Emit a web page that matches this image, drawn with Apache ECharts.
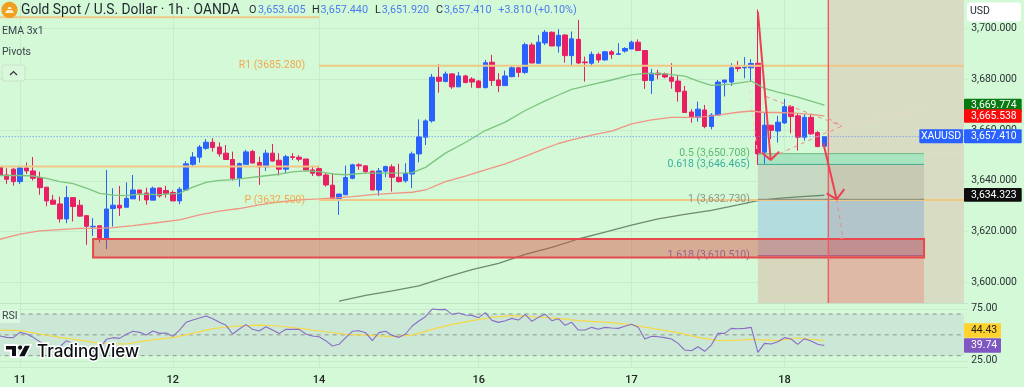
<!DOCTYPE html>
<html><head><meta charset="utf-8">
<style>html,body{margin:0;padding:0;background:#d4f9d6}#c{width:1024px;height:387px}</style>
<script src="https://cdn.jsdelivr.net/npm/echarts@6/dist/echarts.min.js"></script>
</head><body><div id="c"></div>
<script>
const opens=[3645.6,3642.3,3644.6,3639.7,3645.1,3643.9,3641.3,3637.5,3632.4,3630.9,
3625.0,3633.4,3630.4,3626.3,3621.9,3622.3,3617.3,3629.1,3630.4,3629.6,
3632.9,3636.4,3635.2,3632.4,3637.2,3636.2,3635.4,3632.1,3636.4,3646.5,
3649.3,3652.8,3655.2,3653.3,3650.9,3648.4,3641.0,3646.5,3651.6,3647.2,
3645.5,3650.9,3648.1,3644.6,3649.5,3649.3,3648.6,3644.3,3644.8,3642.3,
3638.3,3633.1,3634.5,3641.0,3646.3,3645.9,3643.8,3636.4,3643.8,3645.5,
3641.4,3640.0,3642.7,3650.6,3657.2,3663.6,3680.8,3679.1,3682.1,3677.0,
3681.3,3680.1,3679.3,3676.7,3686.7,3679.7,3677.5,3681.0,3684.5,3682.7,
3693.5,3686.3,3694.3,3698.5,3693.1,3697.4,3689.3,3695.7,3686.8,3686.3,
3689.8,3687.6,3690.8,3689.8,3691.1,3691.9,3694.6,3691.3,3679.5,3682.4,
3682.1,3680.8,3679.3,3675.3,3667.1,3665.0,3667.9,3661.4,3665.9,3678.8,
3678.9,3684.7,3684.5,3684.5,3686.3,3651.3,3661.9,3659.6,3662.8,3669.2,
3665.6,3657.2,3665.0,3659.0,3653.605];
const highs=[3645.6,3645.0,3645.0,3645.9,3647.2,3649.4,3643.6,3637.5,3634.5,3633.8,
3638.0,3633.4,3632.5,3626.3,3625.3,3622.3,3644.3,3637.1,3638.0,3639.4,
3642.3,3636.4,3637.3,3637.7,3637.2,3638.0,3636.2,3637.5,3647.8,3651.3,
3654.1,3656.4,3656.8,3655.1,3654.1,3651.5,3647.2,3652.2,3652.2,3649.5,
3652.2,3654.5,3650.9,3650.2,3650.9,3650.1,3648.6,3645.9,3645.9,3643.0,
3643.0,3634.8,3646.0,3646.7,3646.9,3645.9,3643.8,3645.0,3646.0,3646.5,
3646.7,3646.9,3651.5,3664.2,3664.2,3682.1,3685.9,3683.0,3682.4,3682.9,
3681.7,3680.8,3679.7,3687.6,3689.6,3682.4,3683.4,3685.5,3685.0,3694.4,
3694.4,3697.4,3699.4,3698.8,3699.7,3697.7,3698.8,3703.4,3688.9,3690.9,
3690.5,3691.1,3691.5,3694.2,3692.6,3695.2,3695.7,3691.5,3684.1,3683.7,
3682.6,3686.3,3681.3,3677.4,3668.2,3671.2,3669.9,3666.6,3679.7,3679.7,
3686.3,3687.2,3688.7,3687.9,3707.5,3667.0,3661.9,3665.6,3672.2,3669.8,
3666.3,3666.3,3666.3,3659.6,3657.44];
const lows=[3641.7,3638.8,3638.1,3638.7,3642.7,3640.1,3634.5,3630.0,3630.5,3623.6,
3623.3,3624.0,3625.9,3614.8,3618.3,3615.7,3613.1,3622.0,3626.2,3629.6,
3632.9,3632.1,3630.6,3632.4,3633.4,3633.4,3632.1,3630.8,3636.4,3645.6,
3647.2,3652.2,3651.5,3649.5,3648.2,3640.1,3637.7,3646.5,3646.9,3638.4,
3643.9,3647.6,3642.1,3643.0,3648.2,3647.6,3644.3,3641.9,3641.7,3637.7,
3632.5,3626.6,3634.5,3640.6,3644.3,3643.0,3636.4,3634.1,3641.4,3635.8,
3639.3,3639.3,3637.1,3647.3,3654.1,3662.9,3674.7,3678.8,3676.2,3677.0,
3678.4,3676.7,3676.7,3676.4,3677.4,3674.9,3677.5,3680.8,3680.8,3682.1,
3686.3,3686.3,3693.5,3693.1,3690.5,3686.5,3685.4,3686.0,3679.1,3685.0,
3686.5,3687.3,3688.0,3689.8,3690.5,3691.9,3691.3,3676.2,3674.2,3680.0,
3680.4,3676.3,3671.2,3666.9,3662.9,3663.3,3660.7,3660.3,3665.6,3673.2,
3677.4,3683.0,3680.4,3679.1,3646.3,3646.7,3656.4,3655.1,3662.4,3658.7,
3651.9,3655.8,3658.1,3653.2,3651.92];
const closes=[3642.1,3640.6,3639.7,3645.1,3643.9,3641.0,3637.3,3632.1,3630.8,3625.0,
3633.4,3629.9,3626.1,3622.1,3622.1,3617.0,3628.9,3630.4,3629.3,3633.1,
3636.4,3635.1,3632.5,3637.1,3634.1,3635.1,3632.1,3636.7,3646.7,3649.4,
3653.3,3655.2,3653.1,3650.6,3648.4,3641.0,3646.8,3651.4,3647.0,3645.5,
3650.9,3647.8,3644.6,3649.5,3649.2,3648.5,3644.3,3643.0,3642.2,3638.4,
3633.1,3634.8,3641.3,3646.3,3645.9,3643.6,3636.4,3643.9,3645.6,3641.4,
3639.7,3642.9,3650.6,3657.3,3663.6,3680.8,3679.2,3682.1,3677.0,3681.3,
3678.7,3678.9,3676.7,3686.5,3679.5,3677.5,3681.3,3684.5,3682.7,3693.6,
3686.4,3694.6,3698.5,3693.1,3697.3,3689.3,3695.9,3686.4,3686.5,3689.8,
3687.6,3690.8,3689.8,3690.0,3692.1,3694.6,3691.3,3679.5,3682.4,3681.8,
3680.9,3679.2,3675.1,3666.9,3665.0,3668.2,3661.4,3665.9,3678.9,3679.7,
3684.5,3684.2,3684.7,3686.2,3650.6,3661.9,3659.9,3663.1,3669.2,3665.3,
3657.2,3665.0,3658.5,3653.5,3657.41];
const emaFast=[[0,3642.1],[3,3642.1],[5,3641.9],[7,3641.0],[9,3639.7],[11,3638.9],[13,3637.1],[15,3635.1],[17,3634.4],[19,3634.2],[21,3634.8],[24,3634.6],[27,3635.1],[29,3637.5],[31,3639.4],[33,3640.2],[35,3640.5],[37,3641.1],[39,3641.7],[42,3642.6],[44,3643.5],[46,3643.9],[48,3643.6],[50,3642.7],[52,3642.4],[55,3643],[58,3643],[61,3643.1],[62,3643.2],[64,3645.3],[67,3650.9],[70,3655.1],[73,3659.8],[76,3663.1],[79,3667.7],[82,3671.5],[84,3673.8],[86,3676.0],[89,3677.9],[92,3679.7],[95,3681.7],[97,3682.3],[100,3682.1],[103,3681.2],[105,3679.3],[107,3677.6],[110,3678.1],[113,3679.3],[115,3676.4],[117,3674.9],[120,3673.0],[124,3669.774]];
const emaMid=[[0,3617.0],[3,3619.0],[6,3620.3],[9,3620.8],[12,3621.3],[15,3621.3],[17,3621.6],[20,3622.4],[23,3623.3],[27,3624.6],[30,3626.6],[33,3628.1],[36,3629.1],[39,3630.5],[42,3631.7],[45,3632.5],[48,3632.9],[51,3633.4],[53,3633.8],[56,3634.6],[59,3635.1],[62,3635.5],[64,3636.4],[67,3639.7],[70,3641.9],[73,3644.3],[76,3646.7],[79,3649.6],[82,3652.8],[84,3654.7],[86,3656.1],[89,3658.0],[92,3659.6],[95,3662.4],[98,3664.0],[101,3665.0],[104,3665.0],[106,3665.3],[108,3665.9],[111,3667.0],[113,3667.5],[115,3666.9],[117,3666.9],[120,3666.6],[122,3666.2],[124,3665.538]];
const emaSlow=[[51,3592.6],[55,3594.9],[59,3596.7],[63,3598.6],[67,3602.0],[71,3605.0],[75,3607.5],[79,3611.0],[83,3613.8],[87,3617.1],[91,3619.8],[95,3622.6],[99,3625.0],[103,3626.8],[107,3628.4],[111,3630.5],[114,3632.2],[117,3633.1],[120,3633.7],[124,3634.323]];
const rsi=[48.9,47.6,47.3,52.4,50.8,47.6,43.4,39.6,38.0,38.6,44.4,41.8,38.6,35.4,33.8,37.0,45.7,47.3,46.6,50.5,53.4,52.4,49.8,53.7,51.4,51.8,48.6,54.6,62.0,64.2,66.2,68.1,65.5,62.0,59.1,50.8,55.6,59.8,55.3,53.7,57.8,54.6,51.4,55.3,55.3,55.3,50.8,48.9,48.2,44.4,39.3,40.9,47.3,53.4,54.0,52.1,44.4,52.1,53.4,49.5,47.6,50.8,58.5,63.3,67.4,74.8,74.2,74.5,69.7,71.0,69.0,68.7,66.5,71.3,63.9,62.0,63.6,65.8,64.2,69.7,63.0,66.8,69.7,63.6,65.5,59.1,62.0,54.6,54.6,57.2,55.3,57.2,56.6,56.2,58.2,60.1,57.2,46.0,48.6,48.2,47.3,46.0,41.8,35.4,34.8,38.6,34.2,40.2,51.4,51.4,56.2,55.9,56.2,57.2,33.2,41.8,41.2,43.4,47.3,46.0,40.9,46.3,44.1,40.9,39.74];
const rsiMa=[[0,54.6],[3,54],[6,50.8],[9,47.6],[12,45.0],[15,41.8],[19,41.2],[22,44.4],[26,47.3],[29,51.4],[32,55.9],[35,58.2],[39,59.4],[42,58.5],[45,56.2],[49,53],[52,50.5],[55,49.8],[59,48.2],[62,49.8],[65,55.3],[68,60.1],[71,63.6],[74,66.8],[77,68.4],[80,67.4],[84,65.8],[87,63.6],[92,61.8],[95,59.6],[99,55.3],[102,52.1],[105,47.6],[108,44.4],[111,45],[113,45.7],[117,44.4],[120,47],[124,44.43]];
const dayTicks=[3,26,48,72,95,118];
const dayLabels=['11','12','14','16','17','18'];
const priceTicks=[3600,3620,3640,3660,3680,3700];
const rsiTicks=[25,75];
const pivots=[{name:'',x:[-0.5,48],p:3704.4},{name:'',x:[-0.5,48],p:3645.6},{name:'R1 (3685.280)',x:[48,145],p:3685.28},{name:'P (3632.500)',x:[48,145],p:3632.5}];
const fibLevels=[{name:'0.5 (3,650.708)',p:3650.708,c:'#5cb874'},{name:'0.618 (3,646.465)',p:3646.465,c:'#3aaf9f'},{name:'1 (3,632.730)',p:3632.73,c:'#8c958c'},{name:'1.618 (3,610.510)',p:3610.51,c:'#7b6cc4'}];
const posX=[114,124.6,139,145];
const priceTop=3711.2, priceBottom=3591.9;
const redZone=[14,3617.1,139,3609.8];
const solidArrows=[[[114,3706.6],[115.93,3648.2]],[[114.6,3651.1],[115.93,3648.2],[117.2,3651.5]],[[123.85,3654.8],[125.85,3632.7]],[[124.35,3635.1],[125.85,3632.7],[127,3636.7]]];
const dashedRed=[[[115.2,3673.2],[126.6,3661.6]],[[124.6,3664.6],[126.6,3661.6],[124.9,3659.4]],[[116.1,3649.3],[124.6,3659.4]],[[125.85,3632.7],[126.8,3617.4]],[[126.3,3617.4],[126.8,3617.4],[127.4,3617.6]]];
const dashedPale=[[[124.6,3659.1],[138.9,3668.6]],[[112.6,3679.1],[113.9,3651.5]]];
const lastPrice=3657.41;

const slots=146, step=6.648, N=Array.from({length:slots},(_, i)=>'b'+i);
const F='Roboto, sans-serif', DARK='#1f2630';
const chart=echarts.init(document.getElementById('c'),null,{renderer:'canvas'});
const candle=opens.map((o,i)=>[o,closes[i],lows[i],highs[i]]);
const fmt=v=>v.toFixed(3).replace(/\B(?=(\d{3})(?!\d))(?=.*\.)/,',');
function box(name,rects,color,z,stroke){return {name,type:'custom',xAxisIndex:1,yAxisIndex:0,z,silent:true,clip:true,encode:{x:[0,2],y:[1,3]},data:rects,
 renderItem:(p,api)=>{const a=api.coord([api.value(0),api.value(1)]),b=api.coord([api.value(2),api.value(3)]);
 return {type:'rect',shape:{x:a[0],y:a[1],width:b[0]-a[0],height:b[1]-a[1]},style:{fill:color,stroke:stroke||null,lineWidth:stroke?2:0}};}};}
function line(name,data,color,width,z,type,x,y){return {name,type:'line',xAxisIndex:x===undefined?1:x,yAxisIndex:y===undefined?0:y,data,showSymbol:false,symbol:'none',silent:true,z,
 lineStyle:{color,width,type:type||'solid'},animation:false};}
function levelLine(name,x0,x1,p,color,width,lab,labelColor,dist){return {name,type:'line',xAxisIndex:1,yAxisIndex:0,silent:true,z:4,showSymbol:true,symbol:'circle',symbolSize:0,
 lineStyle:{color,width},itemStyle:{color:'transparent'},
 data:[{value:[x0,p],label:{show:!!lab,position:'left',distance:dist,formatter:lab,color:labelColor,fontFamily:F,fontSize:10.5}},[x1,p]]};}
const L=fibLevels.map(f=>f.p);
const series=[
 box('rangeRight',[[posX[1],priceTop,posX[3],L[0]],[posX[2],L[0],posX[3],priceBottom]],'#d8dcc3',1),
 box('levelA',[[posX[0],L[1],posX[1],L[2]]],'#c6d9c2',1),
 box('levelB',[[posX[1],L[1],posX[2],L[2]]],'#c7c9b3',1),
 box('levelC',[[posX[0],L[2],posX[1],L[3]]],'#b3dcdf',1),
 box('levelD',[[posX[1],L[2],posX[2],L[3]]],'#b2c5cb',1),
 box('levelE',[[posX[0],L[3],posX[1],priceBottom]],'#d7d7bd',1),
 box('levelF',[[posX[1],L[3],posX[2],priceBottom]],'#deb9a5',1),
 box('fibTeal',[[posX[0],L[0],posX[2],L[1]]],'#a9e4c0',1),
 {name:'candles',type:'candlestick',xAxisIndex:0,yAxisIndex:0,data:candle,barWidth:5,z:3,silent:true,
  itemStyle:{color:'#2962ff',color0:'#e91e63',borderColor:'#2962ff',borderColor0:'#e91e63',borderWidth:1}},
 line('emaFast',emaFast,'#7cc47f',1.3,4),
 line('emaMid',emaMid,'#ee9585',1.3,4),
 line('emaSlow',emaSlow,'#6f8b6f',1.3,4),
 line('lastPrice',[[-0.5,lastPrice],[145,lastPrice]],'#5b8cff',1,4,[1,2]),
 ...pivots.map(p=>levelLine('pivot',p.x[0],p.x[1],p.p,'#efc886',2,p.name,'#f2a94e',14)),
 ...fibLevels.map((f,i)=>levelLine('fib',posX[0],posX[2],f.p,i==0?'#6fbb80':i==1?'#45a896':i==2?'#7c8a7c':'#7e5fb8',1,f.name,f.c,8)),
 box('redZone',[redZone],'rgba(214,70,60,0.42)',5,'#e8484c'),
 line('cursor',[[posX[1],priceTop],[posX[1],priceBottom]],'#ee5a68',1.4,6),
 ...dashedPale.map(d=>line('palePath',d,'#f0dcb4',1,6,[4,4])),
 ...dashedRed.map(d=>line('dashPath',d,'#ee8a84',1,6,[4,4])),
 ...solidArrows.map(d=>line('arrow',d,'#ef3f50',2,7)),
 {name:'rsiBand',type:'custom',xAxisIndex:2,yAxisIndex:1,z:1,silent:true,encode:{x:[0,2],y:[1,3]},data:[[-0.5,70,145,30]],
  renderItem:(p,api)=>{const a=api.coord([api.value(0),api.value(1)]),b=api.coord([api.value(2),api.value(3)]);return {type:'rect',shape:{x:a[0],y:a[1],width:b[0]-a[0],height:b[1]-a[1]},style:{fill:'#cbe8d6'}};}},
 ...[70,50,30].map(v=>line('rsiLevel',[[-0.5,v],[145,v]],'#8b958d',1,2,[4,4],2,1)),
 line('rsiMa',rsiMa,'#f5d84a',1.2,3,'solid',2,1),
 line('rsi',rsi.map((v,i)=>[i,v]),'#8a6cc8',1.1,4,'solid',2,1)
];
const axisGrid={show:true,lineStyle:{color:'#c6eccb',width:1}};
const T=(x,y,text,color,size,extra)=>Object.assign({type:'text',z:100,silent:true,style:{x,y,text,fill:color,font:(extra&&extra.weight||'normal')+' '+size+'px '+F,textVerticalAlign:'middle',textAlign:extra&&extra.align||'left'}});
const R=(x,y,w,h,fill,r,stroke)=>({type:'rect',z:99,silent:true,shape:{x,y,width:w,height:h,r:r||0},style:{fill,stroke:stroke||null,lineWidth:stroke?1:0}});
const P=(pts,fill,stroke,lw)=>({type:'polygon',z:100,silent:true,shape:{points:pts},style:{fill,stroke,lineWidth:lw||0}});
const graphics=[
 {type:'circle',z:100,silent:true,shape:{cx:9.5,cy:10,r:8.2},style:{fill:'#f0a01e'}},
 P([[5,13],[7,10],[12,10],[14,13]],'#fdf2d0'),P([[7.5,9],[8.5,7],[10.8,7],[11.8,9]],'#fdf2d0'),
 T(21,10.5,'Gold Spot / U.S. Dollar · 1h · OANDA',DARK,13.8),
 T(249,10.5,'O',DARK,10.8),T(258,10.5,'3,653.605','#4a7df0',10.8),
 T(312,10.5,'H',DARK,10.8),T(320.5,10.5,'3,657.440','#4a7df0',10.8),
 T(375,10.5,'L',DARK,10.8),T(381.7,10.5,'3,651.920','#4a7df0',10.8),
 T(436,10.5,'C',DARK,10.8),T(444,10.5,'3,657.410','#4a7df0',10.8),
 T(498.3,10.5,'+3.810 (+0.10%)','#4a7df0',10.8),
 T(2,31,'EMA 3x1','#3a434d',10.5),T(2,52,'Pivots','#3a434d',10.5),
 R(2,65,23,16,'#d9f7db',3,'#c8e2c9'),
 {type:'polyline',z:100,silent:true,shape:{points:[[10,75],[13.5,71.5],[17,75]]},style:{stroke:'#333',lineWidth:1.2,fill:null}},
 R(0,309,20,14,'#dcf8df',2),T(2,316,'RSI','#3a434d',10.5),
 // TradingView logo
 P([[5,345],[17,345],[17,357],[11,357],[11,350.5],[5,350.5]],'#0b0f14','#ffffff',2),
 {type:'circle',z:100,silent:true,shape:{cx:20.2,cy:347.6,r:2.7},style:{fill:'#0b0f14',stroke:'#fff',lineWidth:1}},
 P([[24.5,345],[31,345],[25,357],[18,357]],'#0b0f14','#ffffff',1.5),
 {type:'text',z:100,silent:true,style:{x:37,y:351.5,text:'TradingView',fill:'#0b0f14',stroke:'#ffffff',lineWidth:3,font:'500 17px Inter, Roboto, sans-serif',textVerticalAlign:'middle'}},
 // right-hand tags
 R(967,2.5,54,19,'#ffffff',3),T(970,11.5,'USD','#1f2630',10.5),
 R(919.3,129.3,43.7,14,'#2962ff',1),T(941,136.6,'XAUUSD','#fff',10.5,{align:'center'}),
 R(964,129.3,57.7,14,'#2962ff',1),T(971,136.6,'3,657.410','#fff',10.4),
 R(964,98.7,57.7,14,'#067a10',1),T(971,105.2,'3,669.774','#fff',10.4),
 R(964,109.3,57.7,13.4,'#ff0a0a',1),T(971,116,'3,665.538','#fff',10.4),
 R(964,188,57.7,13.7,'#0d0d0d',1),T(971,195,'3,634.323','#fff',10.4),
 R(964,323.3,37,14.4,'#ffd22e',1),T(971,330.7,'44.43','#222',10.4),
 R(964,338.3,37,14.4,'#7e57c2',1),T(971,345.7,'39.74','#fff',10.4)
];
chart.setOption({
 animation:false,backgroundColor:'#d4f9d6',
 grid:[{outerBoundsMode:'none',containLabel:false,left:-step/2,width:slots*step,top:0,height:303},{outerBoundsMode:'none',containLabel:false,left:-step/2,width:slots*step,top:303,height:64}],
 xAxis:[
  {type:'category',gridIndex:0,data:N,boundaryGap:true,axisLine:{show:true,lineStyle:{color:'#c0e4c5'}},axisTick:{show:false},axisLabel:{show:false},splitLine:{show:false}},
  {type:'value',gridIndex:0,min:-0.5,max:slots-0.5,axisLine:{show:false},axisTick:{show:false,customValues:dayTicks},axisLabel:{show:false},splitLine:axisGrid},
  {type:'value',gridIndex:1,min:-0.5,max:slots-0.5,axisLine:{show:true,lineStyle:{color:'#c6eccb'}},axisTick:{show:false,customValues:dayTicks},
   axisLabel:{show:true,customValues:dayTicks,margin:8,color:'#222',fontFamily:F,fontSize:11,fontWeight:500,showMinLabel:true,showMaxLabel:true,formatter:v=>dayLabels[dayTicks.indexOf(v)]||''},splitLine:axisGrid}
 ],
 yAxis:[
  {type:'value',gridIndex:0,position:'right',min:priceBottom,max:priceTop,axisLine:{show:false},axisTick:{show:false,customValues:priceTicks},
   axisLabel:{customValues:priceTicks,margin:4,color:'#2b3238',fontFamily:F,fontSize:10.4,formatter:fmt},splitLine:axisGrid},
  {type:'value',gridIndex:1,position:'right',min:19.13,max:80.58,axisLine:{show:false},axisTick:{show:false,customValues:rsiTicks},
   axisLabel:{customValues:rsiTicks,margin:4,color:'#2b3238',fontFamily:F,fontSize:10.4,formatter:v=>v.toFixed(2)},splitLine:axisGrid}
 ],
 series,graphic:{elements:graphics}
});
</script></body></html>
